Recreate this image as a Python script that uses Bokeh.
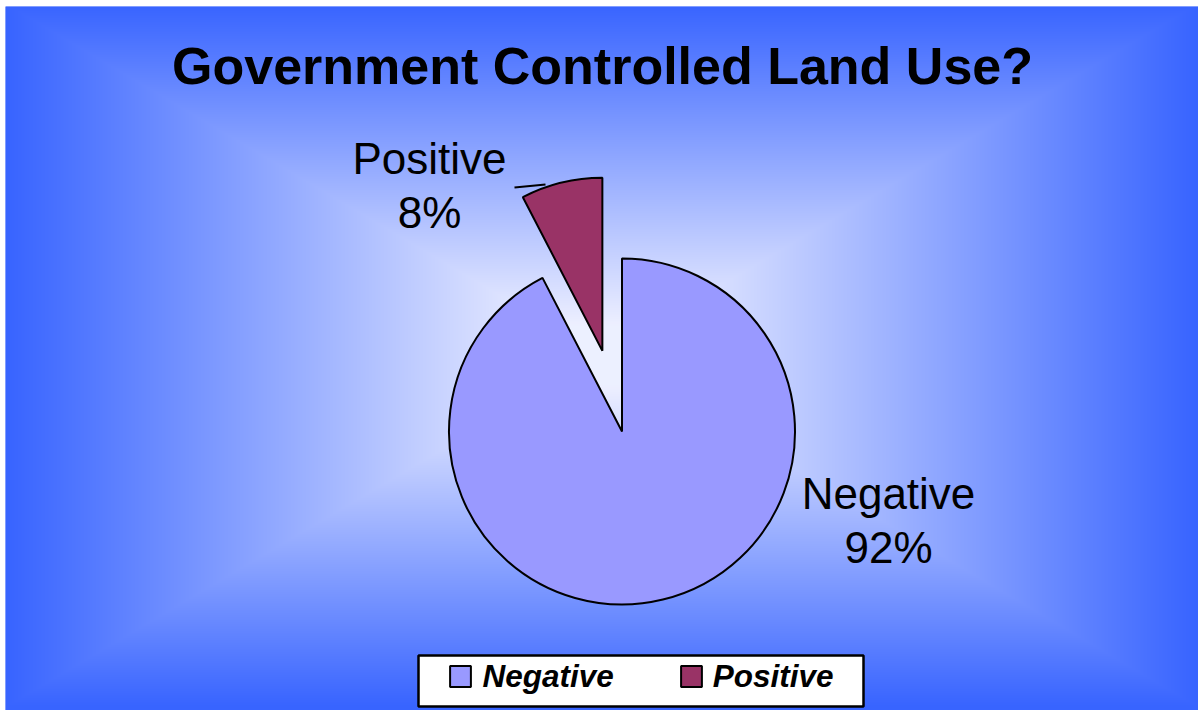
import numpy as np
from bokeh.plotting import figure
from bokeh.models import Range1d, ColumnDataSource, Legend, LegendItem
from bokeh.core.properties import value
from bokeh.embed import file_html
from bokeh.resources import INLINE

# ---- data ----
title_text = "Government Controlled Land Use?"
categories = ["Negative", "Positive"]
percents = [92.4, 7.6]
slice_colors = ["#9999FF", "#993366"]
explode_px = [0, 83]

# ---- layout: frame occupies page x 5..1198, y 6..710 ; data units = pixels ----
LEFT, TOP = 5, 6
FW, FH = 1193, 704
PAGE_H = TOP + FH


def px(x):
    return x


def py(y):
    return PAGE_H - y


FONT = "Liberation Sans"

p = figure(frame_width=FW, frame_height=FH,
           x_range=Range1d(LEFT, LEFT + FW), y_range=Range1d(0, FH),
           output_backend="svg", toolbar_location=None,
           min_border_left=LEFT, min_border_top=TOP,
           min_border_right=0, min_border_bottom=0)
p.axis.visible = False
p.grid.visible = False
p.outline_line_color = None
p.background_fill_color = "#3864FF"
p.border_fill_color = "white"

# ---- rectangular "from centre" gradient background ----
yy, xx = np.mgrid[0:FH, 0:FW] + 0.5
cyc = FH / 2 + 3
t = np.maximum(np.abs(xx - FW / 2) / (FW / 2), np.abs(yy - cyc) / (FH / 2))
t = np.clip(t, 0, 1)
img = np.empty((FH, FW), dtype=np.uint32)
view = img.view(dtype=np.uint8).reshape((FH, FW, 4))
view[..., 0] = np.clip(255 - 199 * t, 0, 236).astype(np.uint8)
view[..., 1] = np.clip(253 - 153 * t, 0, 240).astype(np.uint8)
view[..., 2] = 255
view[..., 3] = 255
p.image_rgba(image=[img], x=LEFT, y=0, dw=FW, dh=FH)

# ---- title ----
p.text(x=[px(602)], y=[py(65)], text=[title_text], text_font=value(FONT),
       text_font_size="52px", text_font_style="bold", text_align="center",
       text_baseline="alphabetic", text_color="black")

# ---- pie ----
fr = np.array(percents, dtype=float) / sum(percents)
cum = np.concatenate([[0.0], np.cumsum(fr)])
start = np.pi / 2 - cum[:-1] * 2 * np.pi
end = np.pi / 2 - cum[1:] * 2 * np.pi
mid = (start + end) / 2
CX, CY, R = px(621.5), py(431), 173
xs = CX + np.array(explode_px) * np.cos(mid)
ys = CY + np.array(explode_px) * np.sin(mid)
src = ColumnDataSource(dict(x=xs, y=ys, start=start, end=end,
                            color=slice_colors, label=categories))
wr = p.wedge(x="x", y="y", radius=R, start_angle="start", end_angle="end",
             direction="clock", fill_color="color", line_color="black",
             line_width=2, source=src)

# ---- data labels ----
lab_x = [px(888), px(429)]
lab_y = [py(493), py(158)]
p.text(x=lab_x, y=lab_y, text=categories, text_font=value(FONT),
       text_font_size="44px", text_align="center", text_baseline="alphabetic",
       text_color="black")
p.text(x=lab_x, y=[v - 54 for v in lab_y], text=[f"{v:.0f}%" for v in percents],
       text_font=value(FONT), text_font_size="44px", text_align="center",
       text_baseline="alphabetic", text_color="black")

# leader line for the small slice
p.line(x=[px(514), px(545)], y=[py(187), py(184)], line_color="black", line_width=2)

# ---- legend box + legend ----
p.quad(left=[px(418)], right=[px(863)], top=[py(655)], bottom=[py(706)],
       fill_color="white", line_color="black", line_width=2.5)

legend = Legend(
    items=[LegendItem(label=c, renderers=[wr], index=i) for i, c in enumerate(categories)],
    orientation="horizontal",
    location=(447.4 - LEFT, 15.5),
    padding=0, margin=0, spacing=64,
    glyph_width=26, glyph_height=26, label_standoff=9,
    label_text_font=FONT, label_text_font_size="31.5px",
    label_text_font_style="bold italic", label_text_color="black",
    background_fill_alpha=0, border_line_alpha=0,
)
p.add_layout(legend)

open("out.html", "w").write(file_html(p, INLINE))
